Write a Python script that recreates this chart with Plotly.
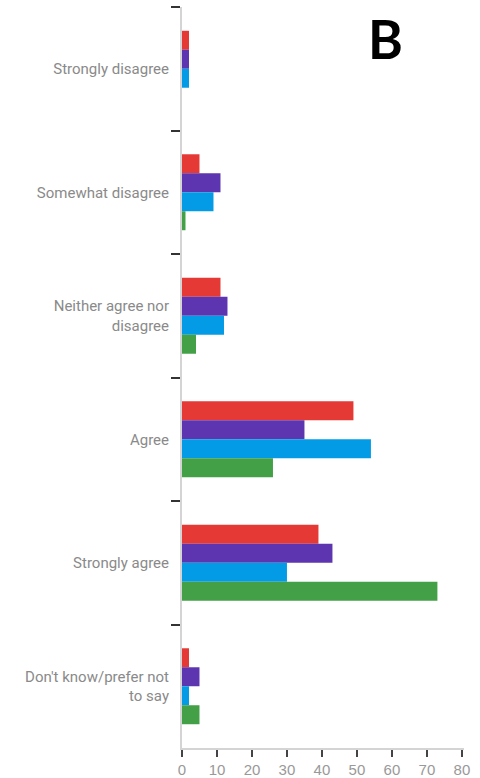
import plotly.graph_objects as go

categories = [
    "Strongly disagree",
    "Somewhat disagree",
    "Neither agree nor<br>disagree",
    "Agree",
    "Strongly agree",
    "Don't know/prefer not<br>to say",
]

series_red = [2, 5, 11, 49, 39, 2]
series_purple = [2, 11, 13, 35, 43, 5]
series_blue = [2, 9, 12, 54, 30, 2]
series_green = [0, 1, 4, 26, 73, 5]

x_ticks = [0, 10, 20, 30, 40, 50, 60, 70, 80]

colors = ["#E53935", "#5E35B1", "#039BE5", "#43A047"]
series = [series_red, series_purple, series_blue, series_green]

fig = go.Figure()
for vals, col in zip(series, colors):
    fig.add_trace(go.Bar(
        x=vals, y=categories, orientation="h",
        marker=dict(color=col, line=dict(width=0)),
        showlegend=False,
    ))

fig.update_layout(
    width=480, height=778,
    margin=dict(l=182, r=16, t=7, b=30),
    paper_bgcolor="white", plot_bgcolor="white",
    barmode="group", bargap=0.385, bargroupgap=0,
    font=dict(family="Roboto", color="#8a8a8a"),
    xaxis=dict(
        range=[0, 80.6], tickvals=x_ticks, showgrid=False, zeroline=False,
        showline=True, linecolor="#d4d4d4", linewidth=2, automargin=False,
        ticks="outside", ticklen=7, tickwidth=2, tickcolor="#444",
        ticklabelstandoff=0,
        tickfont=dict(family="Liberation Sans", size=15, color="#999"),
    ),
    yaxis=dict(
        autorange="reversed", tickson="boundaries", showgrid=False,
        showline=True, linecolor="#d4d4d4", linewidth=2, automargin=False,
        ticks="outside", ticklen=9, tickwidth=2, tickcolor="#333",
        ticklabelstandoff=8,
        tickfont=dict(family="Roboto", size=15, color="#8a8a8a"),
    ),
    annotations=[dict(
        text="<b>B</b>", xref="paper", yref="paper", x=0.72, y=0.958,
        showarrow=False, font=dict(family="Lato", size=53, color="black"),
        xanchor="center", yanchor="middle",
    )],
)

fig.write_html("out.html")
